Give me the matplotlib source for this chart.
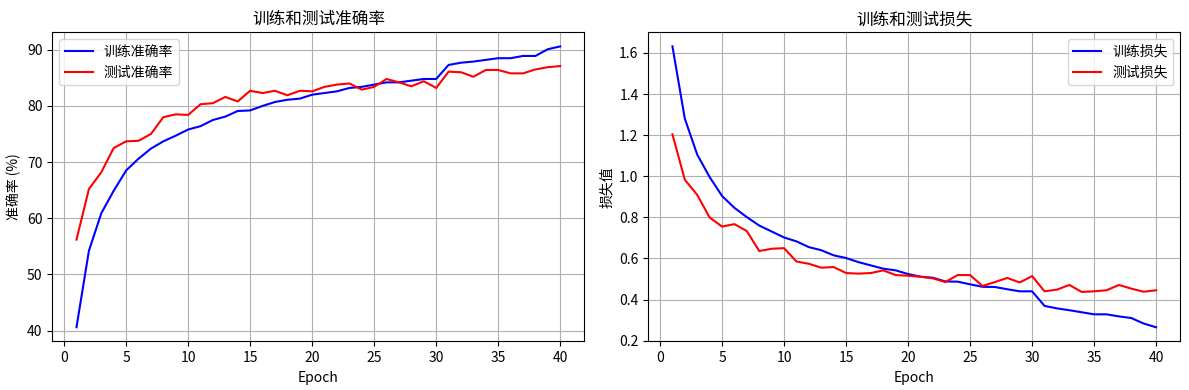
import matplotlib
matplotlib.use("Agg")
import matplotlib.pyplot as plt

plt.rcParams['font.family'] = ['Noto Sans CJK SC', 'DejaVu Sans']
plt.rcParams['axes.unicode_minus'] = False

epochs = list(range(1, 41))

train_acc = [40.6, 54.2, 60.9, 64.9, 68.5, 70.6, 72.4, 73.7, 74.7, 75.8,
             76.4, 77.5, 78.1, 79.1, 79.2, 80.0, 80.7, 81.1, 81.3, 82.0,
             82.3, 82.6, 83.2, 83.4, 83.8, 84.2, 84.2, 84.5, 84.8, 84.8,
             87.3, 87.7, 87.9, 88.2, 88.5, 88.5, 88.9, 88.9, 90.1, 90.6]
test_acc = [56.2, 65.2, 68.2, 72.5, 73.7, 73.8, 75.0, 78.0, 78.5, 78.4,
            80.3, 80.5, 81.6, 80.8, 82.7, 82.3, 82.7, 81.9, 82.7, 82.6,
            83.4, 83.8, 84.0, 82.9, 83.4, 84.8, 84.2, 83.5, 84.4, 83.2,
            86.1, 86.0, 85.2, 86.4, 86.4, 85.8, 85.8, 86.5, 86.9, 87.1]

train_loss = [1.632, 1.280, 1.105, 0.996, 0.904, 0.846, 0.801, 0.760, 0.731, 0.702,
              0.683, 0.655, 0.640, 0.615, 0.602, 0.582, 0.566, 0.550, 0.542, 0.524,
              0.511, 0.506, 0.488, 0.487, 0.474, 0.462, 0.461, 0.450, 0.440, 0.440,
              0.369, 0.357, 0.348, 0.338, 0.328, 0.328, 0.318, 0.310, 0.283, 0.265]
test_loss = [1.204, 0.983, 0.909, 0.799, 0.755, 0.767, 0.733, 0.636, 0.647, 0.650,
             0.585, 0.574, 0.555, 0.558, 0.529, 0.526, 0.529, 0.542, 0.519, 0.516,
             0.511, 0.503, 0.485, 0.519, 0.519, 0.466, 0.485, 0.505, 0.483, 0.514,
             0.440, 0.448, 0.471, 0.437, 0.440, 0.445, 0.471, 0.453, 0.438, 0.445]

fig, (ax1, ax2) = plt.subplots(1, 2, figsize=(11.89, 3.9), dpi=100)

ax1.plot(epochs, train_acc, 'b-', label='训练准确率')
ax1.plot(epochs, test_acc, 'r-', label='测试准确率')
ax1.set_title('训练和测试准确率')
ax1.set_xlabel('Epoch')
ax1.set_ylabel('准确率 (%)')
ax1.legend()
ax1.grid(True)

ax2.plot(epochs, train_loss, 'b-', label='训练损失')
ax2.plot(epochs, test_loss, 'r-', label='测试损失')
ax2.set_title('训练和测试损失')
ax2.set_xlabel('Epoch')
ax2.set_ylabel('损失值')
ax2.set_ylim(0.197, 1.70)
ax2.legend()
ax2.grid(True)

plt.subplots_adjust(left=0.044, right=0.9927, top=0.917, bottom=0.125, wspace=0.12)
plt.savefig('out.png')
